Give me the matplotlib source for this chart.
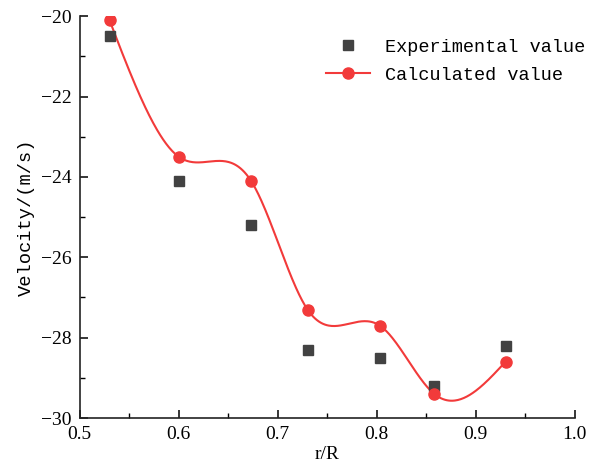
import numpy as np
import matplotlib.pyplot as plt

r_R = [0.53, 0.60, 0.673, 0.73, 0.803, 0.858, 0.93]
experimental = [-20.5, -24.1, -25.2, -28.3, -28.5, -29.2, -28.2]
calculated = [-20.1, -23.5, -24.1, -27.3, -27.7, -29.4, -28.6]


def natural_spline(x, y, n=400):
    # plain natural cubic spline, like Origin's "spline" connection
    x = np.asarray(x, float)
    y = np.asarray(y, float)
    k = len(x)
    h = np.diff(x)
    A = np.zeros((k, k))
    b = np.zeros(k)
    A[0, 0] = A[-1, -1] = 1
    for i in range(1, k - 1):
        A[i, i - 1] = h[i - 1]
        A[i, i] = 2 * (h[i - 1] + h[i])
        A[i, i + 1] = h[i]
        b[i] = 6 * ((y[i + 1] - y[i]) / h[i] - (y[i] - y[i - 1]) / h[i - 1])
    M = np.linalg.solve(A, b)
    xs = np.linspace(x[0], x[-1], n)
    idx = np.clip(np.searchsorted(x, xs) - 1, 0, k - 2)
    x0, x1 = x[idx], x[idx + 1]
    hh = x1 - x0
    t0, t1 = x1 - xs, xs - x0
    ys = (M[idx] * t0**3 / (6 * hh) + M[idx + 1] * t1**3 / (6 * hh)
          + (y[idx] / hh - M[idx] * hh / 6) * t0
          + (y[idx + 1] / hh - M[idx + 1] * hh / 6) * t1)
    return xs, ys


red = '#f23a3a'
gray = '#424242'
tick_font = 'Liberation Serif'
text_font = 'Liberation Mono'

fig = plt.figure(figsize=(6, 4.75), dpi=100)
ax = fig.add_axes([0.133, 0.12, 0.825, 0.846])

xs, ys = natural_spline(r_R, calculated)
ax.plot(r_R, experimental, 's', color=gray, markersize=6.5, label='Experimental value', zorder=3)
ax.plot(xs, ys, '-', color=red, lw=1.5, zorder=2)
ax.plot(r_R, calculated, 'o', color=red, markersize=8, zorder=4)
# legend proxy for line + marker
ax.plot([], [], '-o', color=red, lw=1.5, markersize=8, label='Calculated value')

ax.set_xlim(0.5, 1.0)
ax.set_ylim(-30, -20)
ax.set_xticks([0.5, 0.6, 0.7, 0.8, 0.9, 1.0])
ax.set_xticks([0.55, 0.65, 0.75, 0.85, 0.95], minor=True)
ax.set_yticks([-30, -28, -26, -24, -22, -20])
ax.set_yticks([-29, -27, -25, -23, -21], minor=True)
ax.set_xticklabels(['0.5', '0.6', '0.7', '0.8', '0.9', '1.0'])
ax.set_yticklabels(['\u221230', '\u221228', '\u221226', '\u221224', '\u221222', '\u221220'])

for s in ['top', 'right']:
    ax.spines[s].set_visible(False)
for s in ['left', 'bottom']:
    ax.spines[s].set_linewidth(1.2)
    ax.spines[s].set_color('#222222')

ax.tick_params(which='major', direction='in', length=6, width=1.1, labelsize=14, pad=6)
ax.tick_params(which='minor', direction='in', length=3.5, width=1.0)
for lab in ax.get_xticklabels() + ax.get_yticklabels():
    lab.set_family(tick_font)

ax.set_xlabel('r/R', fontsize=14, family=tick_font, labelpad=2)
ax.set_ylabel('Velocity/(m/s)', fontsize=13.5, family=text_font, labelpad=4)

ax.legend(loc='upper right', bbox_to_anchor=(1.055, 0.985), frameon=False,
          prop={'family': text_font, 'size': 13.3}, handlelength=2.4,
          handletextpad=0.8, labelspacing=0.6)

fig.savefig('out.png', dpi=100)
